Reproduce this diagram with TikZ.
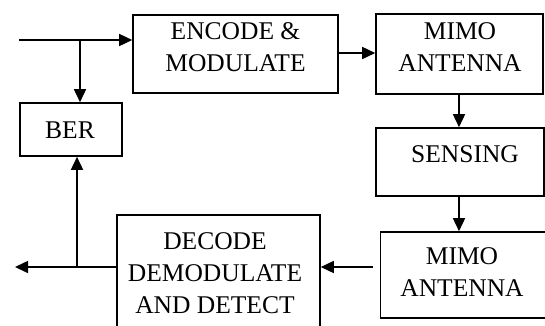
\documentclass[tikz,border=0pt]{standalone}
\usepackage{fontspec}
\setmainfont{Liberation Serif}
\usetikzlibrary{arrows.meta}
\begin{document}
\begin{tikzpicture}[x=1pt,y=-1pt,
  blk/.style={draw,line width=1.6pt,inner sep=0pt},
  lbl/.style={inner sep=0pt,align=center,font=\fontsize{25.5}{32}\selectfont},
  flow/.style={line width=1.6pt,-{Triangle[length=13pt,width=12pt]}},
  wire/.style={line width=1.6pt}]
\useasboundingbox (0,0) rectangle (545,325);
\clip (0,0) rectangle (545,325);
% blocks
\node[blk,minimum width=205pt,minimum height=78pt] (enc) at (235.5,54) {};
\node[blk,minimum width=167pt,minimum height=80pt] (mimoA) at (459.5,54) {};
\node[blk,minimum width=168pt,minimum height=68pt] (sens) at (460,162) {};
\node[blk,minimum width=165pt,minimum height=86pt] (mimoB) at (463,275) {};
\node[blk,minimum width=203pt,minimum height=120pt] (dec) at (218.5,275) {};
\node[blk,minimum width=102pt,minimum height=53pt] (ber) at (71,129.5) {};
% labels
\node[lbl] (encT) at (235.5,47) {ENCODE \&\\MODULATE};
\node[lbl] (mimoAT) at (460,47) {MIMO\\ANTENNA};
\node[lbl] (sensT) at (465,154) {SENSING};
\node[lbl] (berT) at (70,130) {BER};
\node[lbl] (mimoBT) at (462,272.5) {MIMO\\ANTENNA};
\node[lbl] (decT) at (215,273) {DECODE\\DEMODULATE\\AND DETECT};
% connectors
\coordinate (in) at (19,40);
\coordinate (split) at (80,40);
\coordinate (out) at (15,267);
\coordinate (join) at (77,267);
\coordinate (mB) at (373,267);
\draw[flow] (in) -- (enc.west |- in);
\draw[flow] (split) -- (split |- ber.north);
\draw[flow] (enc.east |- 0,53) -- (mimoA.west |- 0,53);
\draw[flow] (mimoA.south -| 459,0) -- (sens.north -| 459,0);
\draw[flow] (sens.south -| 459,0) -- (mimoB.north -| 459,0);
\draw[flow] (mB) -- (dec.east |- mB);
\draw[flow] (dec.west |- out) -- (out);
\draw[flow] (join) -- (join |- ber.south);
\end{tikzpicture}
\end{document}
